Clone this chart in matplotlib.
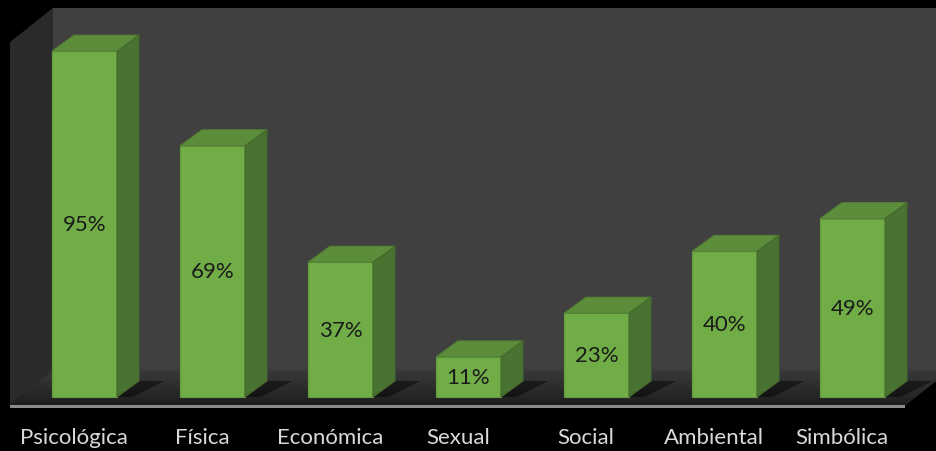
import matplotlib.pyplot as plt
from matplotlib.patches import Polygon
import numpy as np

categories = ["Psicológica", "Física", "Económica", "Sexual", "Social", "Ambiental", "Simbólica"]
values = [95, 69, 37, 11, 23, 40, 49]
value_labels = ["95%", "69%", "37%", "11%", "23%", "40%", "49%"]

front_c = "#70AD47"
top_c = "#5C8D3B"
side_c = "#4A7230"

plt.rcParams['font.family'] = ['Lato', 'DejaVu Sans']

fig = plt.figure(figsize=(9.36, 4.52), dpi=100, facecolor="black")
ax = fig.add_axes([0, 0, 1, 1])
ax.set_facecolor("black")
ax.set_xlim(-0.660, 6.652)
ax.set_ylim(-14.84, 109.34)
ax.axis("off")

# 3d geometry (in data units)
hw = 0.254          # half bar width
bdx, bdy = 0.172, 4.4   # bar depth
fl_front, fl_back = -2.2, 7.14
fl_left, fl_dx = -0.582, 0.336
fl_right = 6.41
wall_top = 106.9

# side wall
ax.add_patch(Polygon([(fl_left, 97.5), (fl_left + fl_dx, wall_top),
                      (fl_left + fl_dx, fl_back), (fl_left, fl_front)],
                     closed=True, fc="#2a2a2a", ec="none", zorder=1))
# back wall
ax.add_patch(Polygon([(fl_left + fl_dx, fl_back), (fl_left + fl_dx, wall_top),
                      (7, wall_top), (7, fl_back)],
                     closed=True, fc="#404040", ec="none", zorder=1))

# floor, shaded from front (dark) to back
n = 12
c0 = np.array([0x1e, 0x1e, 0x1e]) / 255
c1 = np.array([0x38, 0x38, 0x38]) / 255
for k in range(n):
    t0, t1 = k / n, (k + 1) / n
    y0 = fl_front + (fl_back - fl_front) * t0
    y1 = fl_front + (fl_back - fl_front) * t1
    x0 = fl_dx * t0
    x1 = fl_dx * t1
    col = c0 + (c1 - c0) * (t0 + t1) / 2
    ax.add_patch(Polygon([(fl_left + x0, y0), (fl_right + x0, y0),
                          (fl_right + x1, y1), (fl_left + x1, y1)],
                         closed=True, fc=col, ec=col, lw=0.8, zorder=2))
# floor front edge
ax.add_patch(Polygon([(fl_left, fl_front), (fl_right, fl_front),
                      (fl_right, fl_front - 0.9), (fl_left, fl_front - 0.9)],
                     closed=True, fc="#8c8c8c", ec="none", zorder=2))

for i, (v, lab) in enumerate(zip(values, value_labels)):
    x0, x1 = i - hw, i + hw
    # shadow behind bar on the floor
    ax.add_patch(Polygon([(x1, 0), (x1 + bdx, bdy), (x1 + bdx + 0.2, bdy),
                          (x1 + 0.12, 0)],
                         closed=True, fc="black", alpha=0.45, ec="none", zorder=3))
    ax.add_patch(Polygon([(x0, 0), (x1, 0), (x1, v), (x0, v)],
                         closed=True, fc=front_c, ec="#649c3f", lw=0.8, zorder=4))
    ax.add_patch(Polygon([(x0, v), (x1, v), (x1 + bdx, v + bdy), (x0 + bdx, v + bdy)],
                         closed=True, fc=top_c, ec="#557f36", lw=0.8, zorder=4))
    ax.add_patch(Polygon([(x1, 0), (x1 + bdx, bdy), (x1 + bdx, v + bdy), (x1, v)],
                         closed=True, fc=side_c, ec="#43692b", lw=0.8, zorder=4))
    ax.text(i, v / 2, lab, ha="center", va="center", fontsize=16,
            color="#1a1a1a", zorder=5)
    ax.text(i - 0.082, -11, categories[i], ha="center", va="center",
            fontsize=16, color="#d9d9d9", zorder=5)

fig.savefig("out.png", dpi=100, facecolor="black")
